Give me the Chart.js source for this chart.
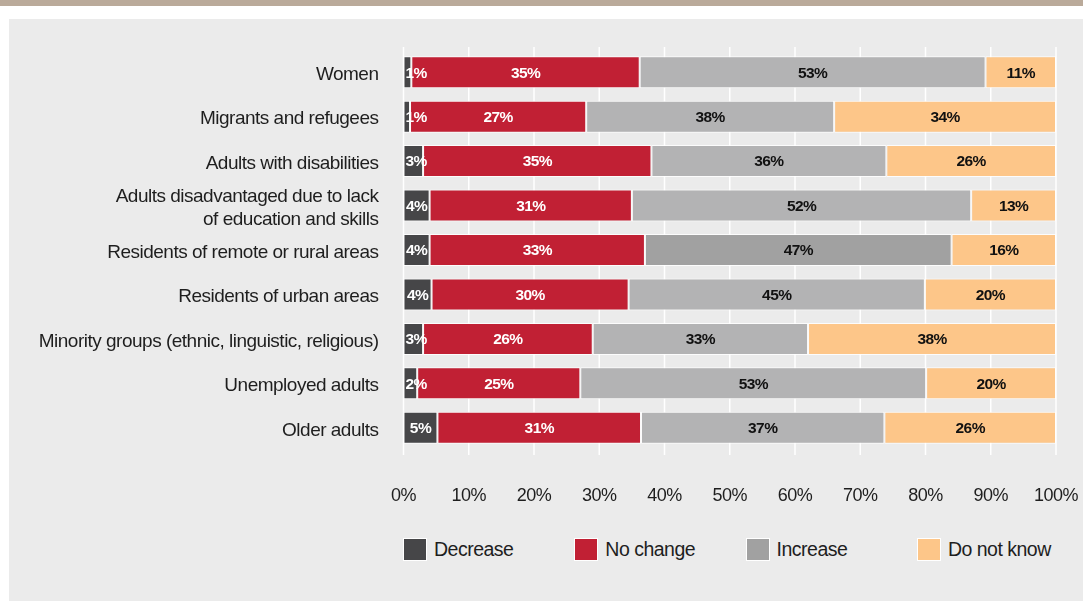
<!DOCTYPE html>
<html>
<head>
<meta charset="utf-8">
<script src="https://cdn.jsdelivr.net/npm/chart.js@4/dist/chart.umd.min.js"></script>
<style>
  html, body { margin: 0; padding: 0; background: #fff; }
  body { width: 1083px; height: 601px; position: relative; overflow: hidden;
         font-family: 'Liberation Sans', Arial, sans-serif; }
  #topbar { position: absolute; left: 0; top: 0; width: 1083px; height: 6px; background: #baaa9a; }
  #panel { position: absolute; left: 9px; top: 19px; width: 1074px; height: 582px; background: #ebebeb; }
  #wrap { position: absolute; left: 0; top: 0; width: 1074px; height: 491px; }
  #legend { position: absolute; left: 394px; top: 519px; display: flex; }
  .item { width: 171.3px; display: flex; align-items: center; }
  .box { width: 22px; height: 21px; border: 1px solid #fff; }
  .item span { margin-left: 7px; font-size: 19.5px; letter-spacing: -0.5px; color: #1e1e1e; }
</style>
</head>
<body>
<div id="topbar"></div>
<div id="panel">
  <div id="wrap"><canvas id="grafica"></canvas></div>
  <div id="legend"></div>
</div>
<script>
const categorias = [
  'Women',
  'Migrants and refugees',
  'Adults with disabilities',
  ['Adults disadvantaged due to lack', 'of education and skills'],
  'Residents of remote or rural areas',
  'Residents of urban areas',
  'Minority groups (ethnic, linguistic, religious)',
  'Unemployed adults',
  'Older adults'
];
const decrease  = [1.2, 1, 3, 4, 4, 4.3, 3, 2.1, 5.2];
const noChange  = [35, 27, 35, 31, 33, 30.2, 26, 25, 31.2];
const increase  = [53, 38, 36, 52, 47, 45.4, 33, 53, 37.3];
const doNotKnow = [10.8, 34, 26, 13, 16, 20.1, 38, 19.9, 26.3];
const xTicks = [0, 10, 20, 30, 40, 50, 60, 70, 80, 90, 100];

const FONT = "'Liberation Sans', Arial, sans-serif";

// the rural bar is a darker grey in the original
const increaseColors = categorias.map((c, i) => i === 4 ? '#a1a1a1' : '#b3b3b4');

const series = [
  { label: 'Decrease', data: decrease, color: '#464648', legend: '#464648', text: '#fff' },
  { label: 'No change', data: noChange, color: '#c12034', legend: '#c12034', text: '#fff' },
  { label: 'Increase', data: increase, color: increaseColors, legend: '#a1a1a1', text: '#111' },
  { label: 'Do not know', data: doNotKnow, color: '#fdc689', legend: '#fdc689', text: '#111' }
];

// no narrow font installed, so squeeze the text a bit
const squeeze = {
  id: 'squeeze',
  beforeLayout(chart) { chart.ctx.letterSpacing = '-0.5px'; },
  beforeDraw(chart) { chart.ctx.letterSpacing = '-0.5px'; }
};

// white vertical gridlines behind the bars
const gridPlugin = {
  id: 'grid',
  beforeDatasetsDraw(chart) {
    const { ctx, chartArea, scales } = chart;
    ctx.save();
    ctx.strokeStyle = '#fff';
    ctx.lineWidth = 1.5;
    xTicks.forEach(t => {
      const x = scales.x.getPixelForValue(t);
      ctx.beginPath();
      ctx.moveTo(x, chartArea.top - 3);
      ctx.lineTo(x, chartArea.bottom + 5);
      ctx.stroke();
    });
    ctx.restore();
  }
};

// percentage labels in the segments
const labelPlugin = {
  id: 'etiquetas',
  afterDatasetsDraw(chart) {
    const ctx = chart.ctx;
    ctx.save();
    ctx.font = 'bold 15.5px ' + FONT;
    ctx.letterSpacing = '-0.6px';
    ctx.textBaseline = 'middle';
    ctx.textAlign = 'left';
    chart.data.datasets.forEach((ds, di) => {
      const meta = chart.getDatasetMeta(di);
      meta.data.forEach((bar, i) => {
        const txt = Math.round(ds.data[i]) + '%';
        const w = ctx.measureText(txt).width;
        const start = Math.min(bar.base, bar.x);
        let left = (bar.x + bar.base) / 2 - w / 2;
        if (left < start + 2) left = start + 2;
        ctx.fillStyle = series[di].text;
        ctx.fillText(txt, left, bar.y + 1);
      });
    });
    ctx.restore();
  }
};

new Chart(document.getElementById('grafica'), {
  type: 'bar',
  data: {
    labels: categorias,
    datasets: series.map(s => ({
      label: s.label,
      data: s.data,
      backgroundColor: s.color,
      borderColor: 'rgba(255,255,255,0.85)',
      borderWidth: 1,
      borderSkipped: false,
      barPercentage: 0.72,
      categoryPercentage: 1
    }))
  },
  options: {
    indexAxis: 'y',
    responsive: true,
    maintainAspectRatio: false,
    animation: false,
    layout: { padding: { top: 31, right: 27, bottom: 0, left: 0 } },
    plugins: { legend: { display: false }, tooltip: { enabled: false } },
    scales: {
      x: {
        stacked: true,
        min: 0,
        max: 100,
        afterBuildTicks: axis => { axis.ticks = xTicks.map(v => ({ value: v })); },
        afterFit: axis => {
          axis.height = 60;
          axis.paddingLeft = 0;
          axis.paddingRight = 0;
        },
        grid: { display: false, drawTicks: false },
        border: { display: false },
        ticks: {
          padding: 35,
          maxRotation: 0,
          color: '#1e1e1e',
          font: { family: FONT, size: 18 },
          callback: v => v + '%'
        }
      },
      y: {
        stacked: true,
        afterFit: axis => {
          axis.width = 394.5;
          axis.paddingTop = 0;
          axis.paddingBottom = 0;
        },
        grid: { display: false, drawTicks: false },
        border: { display: false },
        ticks: {
          autoSkip: false,
          padding: 25,
          labelOffset: 2.5,
          color: '#1e1e1e',
          font: { family: FONT, size: 19, lineHeight: 1.2 }
        }
      }
    }
  },
  plugins: [squeeze, gridPlugin, labelPlugin]
});

document.getElementById('legend').innerHTML = series.map(s =>
  `<div class="item"><div class="box" style="background:${s.legend}"></div><span>${s.label}</span></div>`
).join('');
</script>
</body>
</html>
